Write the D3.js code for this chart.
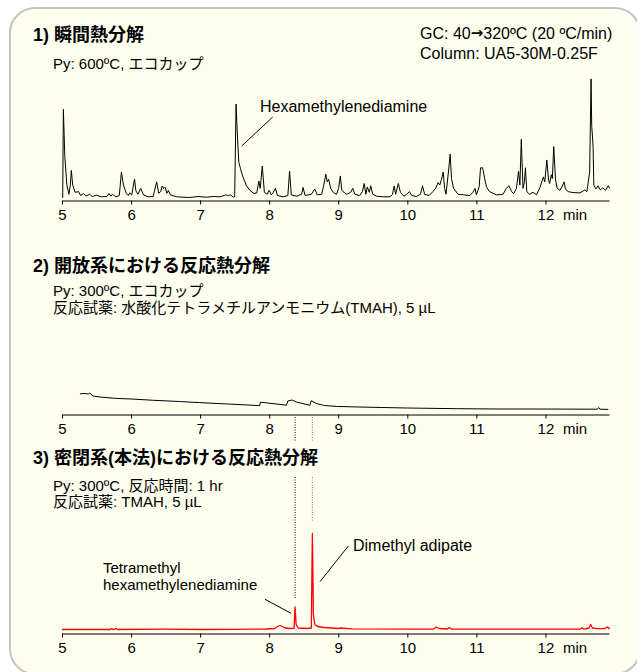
<!DOCTYPE html>
<html><head><meta charset="utf-8">
<script src="https://cdn.jsdelivr.net/npm/d3@7"></script>
<style>
html,body{margin:0;padding:0;background:#fff;}
svg text{font-family:"Liberation Sans",Arial,"Noto Sans CJK JP",sans-serif;fill:#000;}
</style></head>
<body><svg id="c" width="637" height="672"></svg>
<script>
// ---- data ----
const tickValues = [5, 6, 7, 8, 9, 10, 11, 12];
const axisUnit = "min";
const timeDomain = [5, 12.92];

const titles = ["1) 瞬間熱分解", "2) 開放系における反応熱分解", "3) 密閉系(本法)における反応熱分解"];
const conditions1 = ["Py: 600ºC, エコカップ"];
const conditions2 = ["Py: 300ºC, エコカップ", "反応試薬: 水酸化テトラメチルアンモニウム(TMAH), 5 µL"];
const conditions3 = ["Py: 300ºC, 反応時間: 1 hr", "反応試薬: TMAH, 5 µL"];
const gcInfo = [["GC: 40", "→", "320ºC (20 ºC/min)"], ["Column: UA5-30M-0.25F"]];
const peakLabel1 = ["Hexamethylenediamine"];
const peakLabel3a = ["Tetramethyl", "hexamethylenediamine"];
const peakLabel3b = ["Dimethyl adipate"];
const markerTimes = [8.375, 8.625];

// [retention time (min), signal]
const flashPyrolysis = [
[5.00,0],[5.01,0],[5.02,90],[5.04,43],[5.07,13],[5.10,3.3],[5.12,12.7],[5.135,27.7],[5.155,12.7],[5.19,5.3],
[5.24,6],[5.27,2],[5.31,4],[5.35,1.7],[5.40,3.3],[5.44,1],[5.50,2.3],[5.57,0.7],[5.65,1],[5.68,4],[5.71,1.3],
[5.73,3.3],[5.78,0.7],[5.83,2],[5.86,26],[5.89,12.7],[5.93,4.3],[5.96,2],[5.98,4.7],[6.01,2.7],[6.05,18.7],
[6.07,6.7],[6.10,3.3],[6.14,9.3],[6.18,2.7],[6.25,0.7],[6.32,1],[6.37,16],[6.40,4.3],[6.43,6],[6.45,11.7],
[6.47,9.3],[6.49,10.7],[6.52,4.3],[6.54,7.3],[6.57,2.7],[6.66,0.7],[6.85,0],[6.97,1],[7.09,0.3],[7.19,1],
[7.29,0.7],[7.37,2.7],[7.41,2],[7.44,2.7],[7.48,0.3],[7.50,0.7],[7.52,95.3],[7.54,62.7],[7.56,36],[7.585,29.3],
[7.62,21],[7.67,12],[7.72,7.3],[7.78,4],[7.82,4.7],[7.85,16.7],[7.87,9.3],[7.90,32],[7.93,5.3],[7.97,3.3],
[8.00,7.3],[8.03,2.7],[8.06,5.3],[8.09,9.3],[8.12,2],[8.20,0.7],[8.27,2],[8.295,27],[8.32,2.7],[8.40,1.3],
[8.47,3.3],[8.49,10.3],[8.52,2],[8.61,3.3],[8.66,8.7],[8.695,2.7],[8.76,3.3],[8.79,12.7],[8.82,23.7],[8.84,16],
[8.86,18.7],[8.89,9.3],[8.93,5],[8.975,3.3],[9.005,9.3],[9.03,22],[9.05,7.7],[9.095,4.3],[9.12,3.3],[9.18,5.3],
[9.21,9.3],[9.24,3.3],[9.31,2],[9.35,6],[9.375,14.3],[9.40,3.3],[9.42,10.7],[9.45,5.3],[9.47,12],[9.50,3.3],
[9.555,1.3],[9.65,0.7],[9.75,0.7],[9.785,3.3],[9.81,11.7],[9.83,3.3],[9.87,14.3],[9.90,5.3],[9.95,1.3],[9.99,3.3],
[10.03,6],[10.065,2],[10.13,1],[10.19,3.3],[10.22,12],[10.25,3.3],[10.315,2],[10.37,6],[10.41,9.3],[10.445,15.3],
[10.47,12.7],[10.495,18.7],[10.52,26],[10.54,9.3],[10.56,3.3],[10.595,26],[10.62,44.3],[10.64,19.3],[10.67,9.3],
[10.735,3.3],[10.81,2.7],[10.905,2],[10.95,5.3],[10.98,9.3],[11.00,2.7],[11.04,11],[11.06,30.3],[11.09,30.3],
[11.12,19.3],[11.145,11],[11.19,6],[11.29,2.7],[11.385,3.3],[11.435,9.3],[11.47,12],[11.51,6],[11.54,4],
[11.58,9.3],[11.61,26.7],[11.63,12.7],[11.65,59.3],[11.675,9.3],[11.695,16],[11.71,30.3],[11.73,6],[11.77,3.3],
[11.82,5.3],[11.87,2.7],[11.92,10],[11.95,16.7],[11.97,21],[11.99,16],[12.02,38.3],[12.045,17.7],[12.06,14.3],
[12.085,23.3],[12.10,19.3],[12.12,52],[12.145,18.7],[12.17,9.3],[12.21,7.3],[12.24,11],[12.27,16],[12.29,8.3],
[12.33,6],[12.40,5],[12.50,4.7],[12.57,7.7],[12.60,6],[12.64,26],[12.66,121],[12.67,72.7],[12.68,62.7],
[12.69,51],[12.70,12.7],[12.73,8.7],[12.76,12],[12.795,7.7],[12.83,10],[12.87,7.3],[12.91,12],[12.93,9.3]
];

const openSystem = [
[5.26,20.2],[5.33,20.5],[5.38,20],[5.40,21],[5.45,18],[5.55,17],[5.78,15.6],[6.00,15],[6.33,13.7],[6.70,12.5],
[6.99,11.4],[7.40,10],[7.86,8.4],[7.875,11.8],[7.98,11],[8.25,8.8],[8.27,13],[8.33,14],[8.40,11.8],[8.59,8.8],
[8.61,13.3],[8.69,10.3],[8.80,8.5],[8.97,7.6],[9.30,7],[9.63,6.5],[10.00,6],[10.73,5.3],[11.30,5],[11.83,5],
[12.30,4.9],[12.75,4.8],[12.77,6.5],[12.79,4.8],[12.91,4.6]
];

const closedSystem = [
[5.00,0],[5.70,0],[5.72,1],[5.74,0],[5.79,0.8],[5.81,0],[6.50,0.3],[7.00,0],[7.50,0.2],[7.85,0.3],[7.95,0.5],
[8.08,1],[8.12,3],[8.155,4],[8.19,3],[8.23,1.5],[8.30,1],[8.36,1.2],[8.375,22.5],[8.39,5],[8.42,1.5],[8.55,1],
[8.61,1.5],[8.625,96],[8.64,15],[8.66,5],[8.70,3],[8.80,2],[9.00,1],[9.03,1.5],[9.20,0.7],[10.00,0.3],[10.38,0.5],
[10.42,2.5],[10.46,1],[10.58,0.5],[10.61,2],[10.64,0.5],[11.50,0.3],[12.00,0.3],[12.50,0.3],[12.53,1.7],[12.56,0.3],
[12.63,1.5],[12.655,5],[12.68,1.5],[12.75,0.8],[12.85,0.8],[12.90,2.5],[12.93,0.5]
];

// ---- drawing ----
const svg = d3.select("#c");
svg.append("rect").attr("x", 10).attr("y", 8).attr("width", 630).attr("height", 666)
  .attr("rx", 25).attr("ry", 25).attr("fill", "#FFFFF0").attr("stroke", "#C4C4C4").attr("stroke-width", 2);

const x = d3.scaleLinear().domain(timeDomain).range([62, 609]);

function axisAt(yPos) {
  const g = svg.append("g").attr("transform", `translate(0,${yPos})`)
    .call(d3.axisBottom(x).tickValues(tickValues).tickSize(4).tickSizeOuter(0).tickPadding(5)
      .tickFormat(d3.format("d")));
  g.select(".domain").attr("stroke", "#000");
  g.selectAll(".tick line").attr("stroke", "#000");
  g.selectAll(".tick text").attr("font-size", 15).attr("fill", "#000")
    .style("font-family", '"Liberation Sans",Arial,sans-serif');
  svg.append("text").attr("x", 563).attr("y", yPos + 9).attr("dy", "0.71em")
    .attr("font-size", 15).text(axisUnit);
}

function trace(data, y, color, w) {
  svg.append("path").datum(data).attr("fill", "none").attr("stroke", color)
    .attr("stroke-width", w).attr("stroke-linejoin", "round")
    .attr("d", d3.line().x(d => x(d[0])).y(d => y(d[1])));
}

function lines(arr, xPos, y0, dy, size, weight) {
  arr.forEach((s, i) => svg.append("text").attr("x", xPos).attr("y", y0 + i * dy)
    .attr("dominant-baseline", "central").attr("font-size", size)
    .attr("font-weight", weight || "normal").text(s));
}

// panel 1
const y1 = d3.scaleLinear().domain([0, 100]).range([197.5, 99.5]);
lines([titles[0]], 33, 35, 0, 18, "bold");
lines(conditions1, 53, 63, 17, 15);
gcInfo.forEach((parts, i) => {
  const t = svg.append("text").attr("x", 420).attr("y", 33 + i * 20)
    .attr("dominant-baseline", "central").attr("font-size", 16);
  parts.forEach((p, j) => {
    const ts = t.append("tspan").text(p);
    if (p === "→") ts.style("font-family", '"DejaVu Sans",sans-serif').attr("font-weight", "bold").attr("font-size", 15);
  });
});
trace(flashPyrolysis, y1, "#000", 1);
axisAt(200.5);
lines(peakLabel1, 260, 106, 0, 16);
svg.append("line").attr("x1", 272.7).attr("y1", 117).attr("x2", 241.7).attr("y2", 146)
  .attr("stroke", "#000").attr("stroke-width", 1);

// panel 2
const y2 = d3.scaleLinear().domain([0, 100]).range([414, 314]);
lines([titles[1]], 33, 266, 0, 18, "bold");
lines(conditions2, 53, 290, 17, 15);
trace(openSystem, y2, "#000", 1);
axisAt(414.5);

// marker lines
const segs = [[417, 441, 598], [417, 441, 521]];
markerTimes.forEach((t, i) => {
  const col = i === 0 ? "#000" : "#777";
  svg.append("line").attr("x1", x(t)).attr("x2", x(t)).attr("y1", segs[i][0]).attr("y2", segs[i][1])
    .attr("stroke", col).attr("stroke-width", 1).attr("stroke-dasharray", "1,1.5");
  svg.append("line").attr("x1", x(t)).attr("x2", x(t)).attr("y1", 477).attr("y2", segs[i][2])
    .attr("stroke", col).attr("stroke-width", 1).attr("stroke-dasharray", "1,1.5");
});

// panel 3
const y3 = d3.scaleLinear().domain([0, 100]).range([629.5, 529.5]);
lines([titles[2]], 33, 458, 0, 18, "bold");
lines(conditions3, 53, 485, 16.5, 15);
trace(closedSystem, y3, "#FF0000", 1.3);
axisAt(633.5);
lines(peakLabel3b, 353, 545, 0, 16);
svg.append("line").attr("x1", 348.3).attr("y1", 546).attr("x2", 320).attr("y2", 581.7)
  .attr("stroke", "#000").attr("stroke-width", 1);
lines(peakLabel3a, 103, 567, 17, 15);
svg.append("line").attr("x1", 265).attr("y1", 599.3).attr("x2", 291).attr("y2", 613.3)
  .attr("stroke", "#000").attr("stroke-width", 1);
</script></body></html>
